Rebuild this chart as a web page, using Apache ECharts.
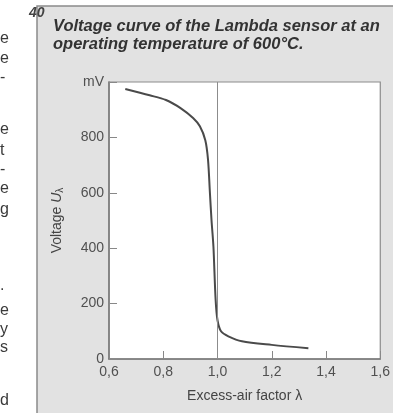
<!DOCTYPE html>
<html>
<head>
<meta charset="utf-8">
<script src="https://cdn.jsdelivr.net/npm/echarts@6/dist/echarts.min.js"></script>
<style>
  html, body { margin: 0; padding: 0; background: #ffffff; }
  #chart { width: 393px; height: 413px; }
</style>
</head>
<body>
<div id="chart"></div>
<script>
// Excess-air factor λ and the sensor voltage (mV) along the curve
const lambdaValues = [0.66, 0.75, 0.81, 0.865, 0.91, 0.935, 0.955, 0.965, 0.972, 0.978, 0.985, 0.993, 1.0, 1.013, 1.04, 1.09, 1.2, 1.335];
const voltageValues = [975, 952, 935, 905, 870, 840, 790, 720, 600, 500, 405, 215, 140, 100, 82, 64, 51, 39];

// Axis ticks
const xTicks = [0.6, 0.8, 1.0, 1.2, 1.4, 1.6];
const yTicks = [0, 200, 400, 600, 800, 1000];
const yUnit = 'mV';
const stoichiometricLambda = 1.0;

// Text lines
const titleLines = ['Voltage curve of the Lambda sensor at an', 'operating temperature of 600°C.'];
const xAxisTitle = 'Excess-air factor λ';
const pageNumber = '40';
const marginGlyphs = ['e', 'e', '-', 'e', 't', '-', 'e', 'g', '.', 'e', 'y', 's', 'd'];
const marginGlyphRows = [40, 60, 79, 131, 152, 171, 190, 211, 287, 312, 331, 349, 402];

const FONT = '"Liberation Sans", Arial, sans-serif';
const chart = echarts.init(document.getElementById('chart'));

const points = lambdaValues.map((l, i) => [l, voltageValues[i]]);

const graphics = [
  {
    type: 'rect', z: -10, silent: true,
    shape: { x: 37, y: 6, width: 380, height: 430 },
    style: { fill: '#e2e2e2', stroke: '#8a8a8a', lineWidth: 1.5 }
  },
  {
    type: 'text', left: 29, top: 6,
    style: { text: pageNumber, font: 'italic bold 14px ' + FONT, fill: '#444' }
  }
];
marginGlyphs.forEach((g, i) => {
  graphics.push({
    type: 'text', left: 0, top: marginGlyphRows[i] - 9,
    style: { text: g, font: '16px ' + FONT, fill: '#3a3a3a' }
  });
});

chart.setOption({
  animation: false,
  backgroundColor: '#ffffff',
  title: {
    text: titleLines.join('\n'),
    left: 48, top: 12,
    textStyle: {
      fontFamily: FONT, fontSize: 16.5, fontWeight: 'bold', fontStyle: 'italic',
      color: '#333', lineHeight: 18
    }
  },
  graphic: graphics,
  grid: {
    left: 109, right: 4, top: 82, bottom: 54,
    show: true, backgroundColor: '#ffffff', borderColor: '#8c8c8c', borderWidth: 1.2
  },
  xAxis: {
    type: 'value', min: xTicks[0], max: xTicks[xTicks.length - 1], interval: 0.2,
    name: xAxisTitle, nameLocation: 'middle', nameGap: 30,
    nameTextStyle: { fontFamily: FONT, fontSize: 14, color: '#444' },
    axisLine: { lineStyle: { color: '#777', width: 1.5 } },
    axisTick: { inside: true, length: 8, lineStyle: { color: '#888' } },
    splitLine: { show: false },
    axisLabel: {
      fontFamily: FONT, fontSize: 14, color: '#505050', margin: 6,
      formatter: v => v.toFixed(1).replace('.', ',')
    }
  },
  yAxis: {
    type: 'value', min: yTicks[0], max: yTicks[yTicks.length - 1], interval: 200,
    name: '{n|Voltage }{u|U}{s|λ}', nameLocation: 'middle', nameGap: 44, nameRotate: 90,
    nameTextStyle: {
      fontFamily: FONT, fontSize: 14, color: '#444',
      rich: {
        n: { fontFamily: FONT, fontSize: 14, color: '#444' },
        u: { fontFamily: FONT, fontSize: 14, fontStyle: 'italic', color: '#444' },
        s: { fontFamily: FONT, fontSize: 10, color: '#444', verticalAlign: 'bottom', padding: [6, 0, 0, 0] }
      }
    },
    axisLine: { show: true, lineStyle: { color: '#777', width: 1.5 } },
    axisTick: { show: true, inside: true, length: 8, lineStyle: { color: '#888' } },
    splitLine: { show: false },
    axisLabel: {
      fontFamily: FONT, fontSize: 14, color: '#505050', margin: 5,
      formatter: v => (v === yTicks[yTicks.length - 1] ? yUnit : String(v))
    }
  },
  series: [
    {
      type: 'line',
      data: points,
      smooth: 0.3,
      showSymbol: false,
      lineStyle: { color: '#4a4a4a', width: 2 },
      markLine: {
        silent: true, symbol: 'none', label: { show: false },
        lineStyle: { color: '#8c8c8c', width: 1, type: 'solid' },
        data: [{ xAxis: stoichiometricLambda }]
      }
    }
  ]
});
</script>
</body>
</html>
